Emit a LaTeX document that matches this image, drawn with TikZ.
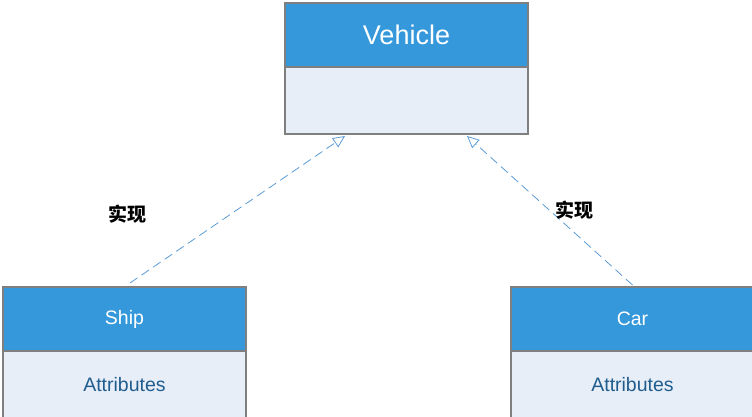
\documentclass[tikz,border=0pt]{standalone}
\usepackage{fontspec}
\setmainfont{Liberation Sans}
\newfontfamily\cjk{Noto Sans CJK SC}
\usetikzlibrary{positioning, arrows.meta}

\definecolor{headblue}{HTML}{3598DB}
\definecolor{bodyblue}{HTML}{E8EEF8}
\definecolor{edgegray}{HTML}{7F7F7F}
\definecolor{attrblue}{HTML}{1F5D8E}
\definecolor{linkblue}{HTML}{5B9BD5}

\begin{document}
\begin{tikzpicture}[
            x=1pt, y=-1pt,
            node distance=0pt,
            head/.style={draw=edgegray, line width=1.5pt, fill=headblue, text=white, minimum width=243pt, minimum height=64pt, inner sep=0pt, outer sep=0pt, font=\fontsize{19.5}{22}\selectfont},
            body/.style={draw=edgegray, line width=1.5pt, fill=bodyblue, text=attrblue, minimum width=243pt, minimum height=67pt, inner sep=0pt, outer sep=0pt, font=\fontsize{19.5}{22}\selectfont},
            realize/.style={draw=linkblue, line width=0.8pt, dash pattern=on 9pt off 5pt, -{Triangle[open, length=12pt, width=11pt]}},
            tag/.style={font=\cjk\bfseries\fontsize{19}{21}\selectfont}
            ]
            \useasboundingbox (0,0) rectangle (752,416);
            
            % classe pai
            \node[head, font=\fontsize{27}{30}\selectfont] (vehiclehead) at (406.5,35) {Vehicle};
            \node[body, below=of vehiclehead] (vehiclebody) {};
            
            % classes filhas
            \node[head] (shiphead) at (124.5,319) {Ship};
            \node[body, below=of shiphead] (shipbody) {Attributes};
            
            \node[head] (carhead) at (632.5,319) {Car};
            \node[body, below=of carhead] (carbody) {Attributes};
            
            % realizacao
            \draw[realize] ([xshift=5.5pt, yshift=4pt]shiphead.north) -- ([xshift=-61.5pt, yshift=-2pt]vehiclebody.south);
            \draw[realize] ([yshift=2pt]carhead.north) -- ([xshift=60.5pt, yshift=-2pt]vehiclebody.south);
            
            \node[tag] (tagship) at (127,214) {实现};
            \node[tag] (tagcar) at (574,210) {实现};
            
        \end{tikzpicture}
\end{document}
